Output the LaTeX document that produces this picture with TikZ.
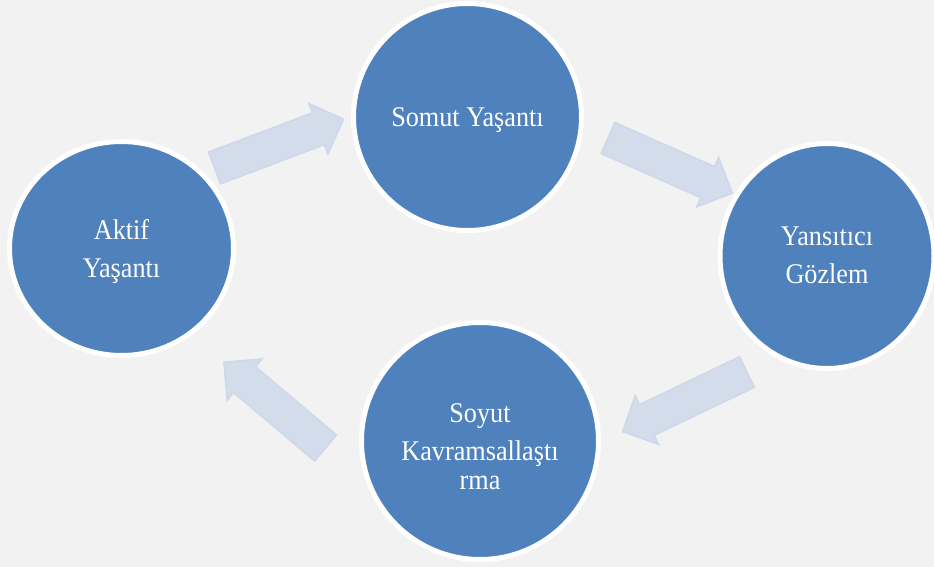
\documentclass[tikz,border=0pt]{standalone}
\usepackage{fontspec}
\setmainfont{Liberation Serif}
\newfontfamily\cyfont[FakeStretch=0.92]{Liberation Serif}
\usetikzlibrary{shapes.geometric}
\definecolor{bgc}{HTML}{F2F2F2}
\definecolor{cblue}{HTML}{4F81BD}
\definecolor{afill}{HTML}{D3DCEB}
\definecolor{aline}{HTML}{CFD8E9}
\tikzset{
  cyc/.style={ellipse, fill=cblue, draw=white, line width=5pt, inner sep=0pt, outer sep=0pt},
  lbl/.style={text=white, align=center, inner sep=0pt, font=\cyfont\fontsize{28.5}{28.5}\selectfont},
  barrow/.style={fill=afill, draw=aline, line width=1.5pt, line join=miter}
}
\newcommand\myblkarrow[4]{%
  \draw[barrow, shift={(#1,#2)}, rotate=#3]
    (0,-17) -- ({#4-27},-17) -- ({#4-27},-27) -- (#4,0) -- ({#4-27},27) -- ({#4-27},17) -- (0,17) -- cycle;}
\begin{document}
\begin{tikzpicture}[x=1pt,y=1pt]
\useasboundingbox (0,0) rectangle (934,-567);
\clip (0,0) rectangle (934,-567);
\fill[bgc] (0,0) rectangle (934,-567);
% circles
\node[cyc, minimum width=224pt, minimum height=214pt] (aktif) at (121.5,-248.5) {};
\node[cyc, minimum width=228pt, minimum height=227pt] (somut) at (467.5,-117) {};
\node[cyc, minimum width=214pt, minimum height=225pt] (yans) at (827,-256) {};
\node[cyc, minimum width=237pt, minimum height=237pt] (soyut) at (480,-441) {};
% labels
\node[lbl, yshift=-3.2pt] (aktif-t) at (aktif) {Aktif\\[9.5pt]Yaşantı};
\node[lbl, yshift=-3pt] (somut-t) at (somut) {Somut Yaşantı};
\node[lbl, yshift=1pt] (yans-t) at (yans) {Yansıtıcı\\[9.5pt]Gözlem};
\node[lbl, yshift=-5.5pt] (soyut-t) at (soyut) {Soyut\\[9.5pt]Kavramsallaştı\\rma};
% block arrows
\myblkarrow{214.5}{-168}{20.7}{138}
\myblkarrow{608}{-138}{-23.9}{136}
\myblkarrow{747}{-372}{-154.4}{138}
\myblkarrow{325.5}{-448}{139.8}{133}
\end{tikzpicture}
\end{document}
